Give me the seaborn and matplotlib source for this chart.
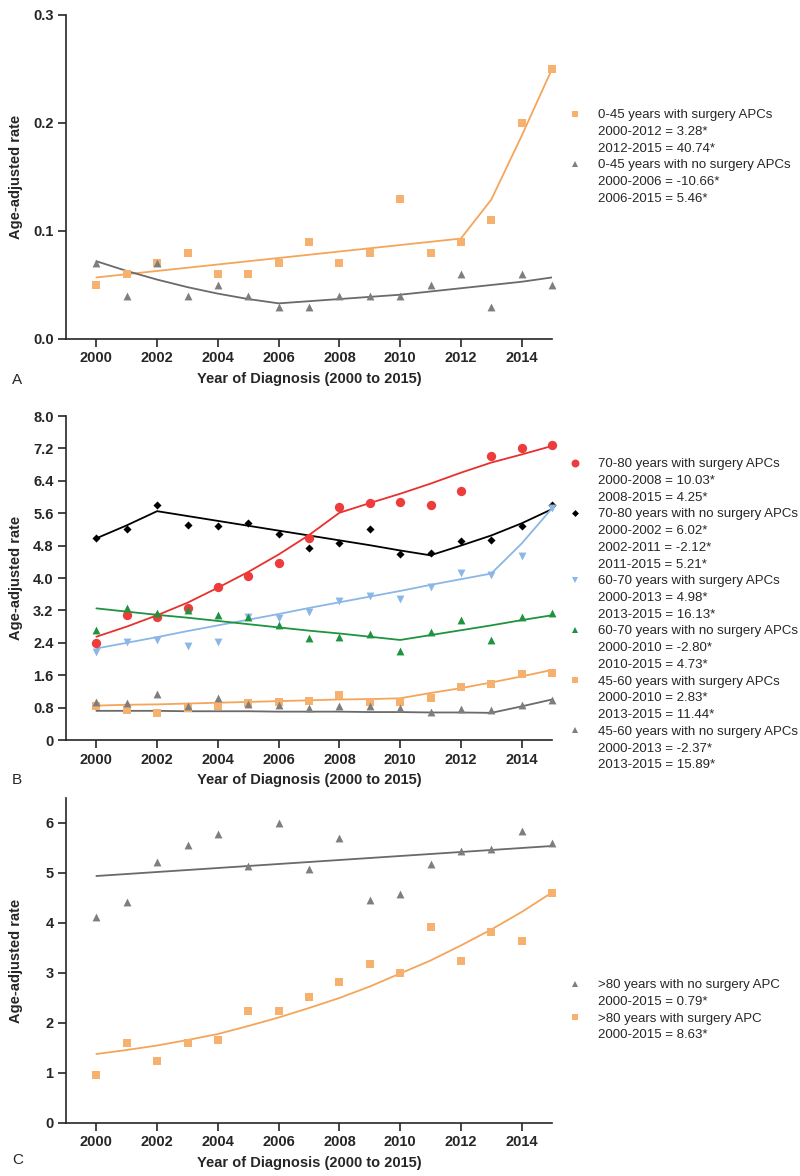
import numpy as np
import pandas as pd
import matplotlib.pyplot as plt
import seaborn as sns
from matplotlib.lines import Line2D
from matplotlib.ticker import FuncFormatter

sns.set_style("ticks")
plt.rcParams['font.family'] = ['Liberation Sans', 'DejaVu Sans']

years = list(range(2000, 2016))

# panel A: 0-45 years
a_surg = [0.05, 0.06, 0.07, 0.08, 0.06, 0.06, 0.07, 0.09, 0.07, 0.08, 0.13, 0.08, 0.09, 0.11, 0.20, 0.25]
a_surg_fit = [0.057, 0.060, 0.063, 0.066, 0.069, 0.072, 0.075, 0.078, 0.081, 0.084, 0.087, 0.090, 0.093, 0.129, 0.188, 0.25]
a_nosurg = [0.07, 0.04, 0.07, 0.04, 0.05, 0.04, 0.03, 0.03, 0.04, 0.04, 0.04, 0.05, 0.06, 0.03, 0.06, 0.05]
a_nosurg_fit = [0.072, 0.063, 0.055, 0.048, 0.042, 0.037, 0.033, 0.035, 0.037, 0.039, 0.041, 0.044, 0.047, 0.050, 0.053, 0.057]

# panel B: 45-80 years
b_7080_surg = [2.40, 3.08, 3.04, 3.25, 3.78, 4.05, 4.37, 4.99, 5.75, 5.84, 5.87, 5.81, 6.14, 7.01, 7.22, 7.28]
b_7080_surg_fit = [2.55, 2.80, 3.08, 3.39, 3.76, 4.15, 4.58, 5.06, 5.61, 5.85, 6.08, 6.33, 6.60, 6.85, 7.05, 7.26]
b_7080_nosurg = [5.00, 5.20, 5.80, 5.32, 5.29, 5.36, 5.09, 4.74, 4.87, 5.21, 4.60, 4.62, 4.91, 4.94, 5.29, 5.80]
b_7080_nosurg_fit = [4.98, 5.30, 5.65, 5.53, 5.41, 5.29, 5.17, 5.05, 4.93, 4.81, 4.68, 4.56, 4.80, 5.05, 5.35, 5.70]
b_6070_surg = [2.18, 2.43, 2.48, 2.33, 2.41, 3.04, 3.02, 3.15, 3.44, 3.55, 3.48, 3.78, 4.13, 4.07, 4.54, 5.73]
b_6070_surg_fit = [2.26, 2.40, 2.54, 2.69, 2.83, 2.97, 3.11, 3.26, 3.40, 3.54, 3.68, 3.83, 3.97, 4.11, 4.85, 5.72]
b_6070_nosurg = [2.71, 3.26, 3.14, 3.21, 3.08, 3.04, 2.85, 2.51, 2.55, 2.62, 2.20, 2.66, 2.96, 2.47, 3.04, 3.13]
b_6070_nosurg_fit = [3.25, 3.17, 3.09, 3.02, 2.94, 2.86, 2.78, 2.70, 2.63, 2.55, 2.47, 2.59, 2.71, 2.83, 2.96, 3.08]
b_4560_surg = [0.84, 0.74, 0.67, 0.80, 0.84, 0.92, 0.95, 0.96, 1.11, 0.93, 0.93, 1.04, 1.30, 1.38, 1.64, 1.66]
b_4560_surg_fit = [0.85, 0.87, 0.88, 0.90, 0.92, 0.94, 0.96, 0.98, 1.00, 1.01, 1.03, 1.16, 1.28, 1.42, 1.57, 1.73]
b_4560_nosurg = [0.95, 0.92, 1.13, 0.85, 1.04, 0.90, 0.86, 0.80, 0.85, 0.85, 0.80, 0.70, 0.76, 0.74, 0.86, 1.00]
b_4560_nosurg_fit = [0.72, 0.72, 0.72, 0.71, 0.71, 0.71, 0.70, 0.70, 0.70, 0.69, 0.69, 0.68, 0.68, 0.67, 0.83, 1.00]

# panel C: >80 years
c_nosurg = [4.12, 4.42, 5.23, 5.56, 5.79, 5.14, 6.01, 5.08, 5.70, 4.46, 4.59, 5.18, 5.44, 5.48, 5.85, 5.60]
c_nosurg_fit = [4.94, 4.98, 5.02, 5.06, 5.10, 5.14, 5.18, 5.22, 5.26, 5.30, 5.34, 5.38, 5.42, 5.46, 5.50, 5.54]
c_surg = [0.97, 1.60, 1.24, 1.60, 1.67, 2.25, 2.25, 2.53, 2.83, 3.18, 3.00, 3.92, 3.24, 3.83, 3.64, 4.61]
c_surg_fit = [1.38, 1.46, 1.55, 1.66, 1.78, 1.94, 2.11, 2.30, 2.50, 2.73, 2.99, 3.25, 3.55, 3.87, 4.22, 4.61]

ORANGE = '#F6B16E'
ORANGE_L = '#F5A55A'
GRAY = '#7E7E7E'
GRAY_L = '#6A6A6A'
RED = '#EE3B3B'
BLUE = '#8AB7E6'
GREEN = '#1E9440'

# (points, fit, marker, colour, line colour, size, legend lines)
series_a = [
    (a_surg, a_surg_fit, 's', ORANGE, ORANGE_L, 28,
     ['0-45 years with surgery APCs', '2000-2012 = 3.28*', '2012-2015 = 40.74*']),
    (a_nosurg, a_nosurg_fit, '^', GRAY, GRAY_L, 32,
     ['0-45 years with no surgery APCs', '2000-2006 = -10.66*', '2006-2015 = 5.46*']),
]
series_b = [
    (b_7080_surg, b_7080_surg_fit, 'o', RED, '#E8302C', 45,
     ['70-80 years with surgery APCs', '2000-2008 = 10.03*', '2008-2015 = 4.25*']),
    (b_7080_nosurg, b_7080_nosurg_fit, 'D', 'black', 'black', 17,
     ['70-80 years with no surgery APCs', '2000-2002 = 6.02*', '2002-2011 = -2.12*', '2011-2015 = 5.21*']),
    (b_6070_surg, b_6070_surg_fit, 'v', BLUE, BLUE, 32,
     ['60-70 years with surgery APCs', '2000-2013 = 4.98*', '2013-2015 = 16.13*']),
    (b_6070_nosurg, b_6070_nosurg_fit, '^', GREEN, GREEN, 32,
     ['60-70 years with no surgery APCs', '2000-2010 = -2.80*', '2010-2015 = 4.73*']),
    (b_4560_surg, b_4560_surg_fit, 's', ORANGE, ORANGE_L, 28,
     ['45-60 years with surgery APCs', '2000-2010 = 2.83*', '2013-2015 = 11.44*']),
    (b_4560_nosurg, b_4560_nosurg_fit, '^', GRAY, GRAY_L, 32,
     ['45-60 years with no surgery APCs', '2000-2013 = -2.37*', '2013-2015 = 15.89*']),
]
series_c = [
    (c_nosurg, c_nosurg_fit, '^', GRAY, GRAY_L, 32,
     ['>80 years with no surgery APC', '2000-2015 = 0.79*']),
    (c_surg, c_surg_fit, 's', ORANGE, ORANGE_L, 28,
     ['>80 years with surgery APC', '2000-2015 = 8.63*']),
]

W, H = 800, 1176
fig = plt.figure(figsize=(W / 100, H / 100), dpi=100)


def px_axes(left, top, right, bottom):
    return fig.add_axes([left / W, 1 - bottom / H, (right - left) / W, (bottom - top) / H])


def draw_panel(ax, series, ylim, yticks, yfmt, leg_top, letter, letter_y):
    for pts, fit, mk, col, lcol, size, labels in series:
        df = pd.DataFrame({'year': years, 'rate': pts, 'fit': fit})
        sns.lineplot(data=df, x='year', y='fit', ax=ax, color=lcol, lw=1.3, zorder=2)
        sns.scatterplot(data=df, x='year', y='rate', ax=ax, marker=mk, color=col,
                        s=size, linewidth=0, clip_on=False, zorder=3)
    ax.set_xlim(1999, 2015)
    ax.set_ylim(*ylim)
    ax.set_xticks(range(2000, 2016, 2))
    ax.set_yticks(yticks)
    ax.yaxis.set_major_formatter(FuncFormatter(yfmt))
    for sp in ['top', 'right']:
        ax.spines[sp].set_visible(False)
    for sp in ['left', 'bottom']:
        ax.spines[sp].set_linewidth(1.2)
    ax.tick_params(length=6, width=1.2, pad=3, labelsize=10.5)
    for t in ax.get_xticklabels() + ax.get_yticklabels():
        t.set_fontweight('bold')
    ax.set_xlabel('Year of Diagnosis (2000 to 2015)', fontsize=10.5, fontweight='bold', labelpad=5)
    ax.set_ylabel('Age-adjusted rate', fontsize=10.5, fontweight='bold')
    ax.yaxis.set_label_coords(-0.088, 0.5)

    handles, texts = [], []
    for pts, fit, mk, col, lcol, size, labels in series:
        handles.append(Line2D([0], [0], marker=mk, color=col, linestyle='none',
                              markersize=np.sqrt(size) * 0.85, markeredgewidth=0))
        texts.append(labels[0])
        for extra in labels[1:]:
            handles.append(Line2D([], [], linestyle='none'))
            texts.append(extra)
    ax.legend(handles, texts, loc='upper left', bbox_to_anchor=(567 / W, 1 - leg_top / H),
              bbox_transform=fig.transFigure, frameon=False, fontsize=9.5,
              handlelength=1.2, handletextpad=1.15, borderpad=0, borderaxespad=0,
              labelspacing=0.34)
    fig.text(12 / W, 1 - letter_y / H, letter, fontsize=11, va='center', ha='left')


ax_a = px_axes(66, 15, 552, 339)
draw_panel(ax_a, series_a, (0, 0.3), [0.0, 0.1, 0.2, 0.3],
           lambda v, p: '%.1f' % v, 109, 'A', 380)

ax_b = px_axes(66, 416, 552, 740)
draw_panel(ax_b, series_b, (0, 8.0), [0, 0.8, 1.6, 2.4, 3.2, 4.0, 4.8, 5.6, 6.4, 7.2, 8.0],
           lambda v, p: '0' if abs(v) < 1e-9 else '%.1f' % v, 458, 'B', 780)

ax_c = px_axes(66, 798, 552, 1123)
draw_panel(ax_c, series_c, (0, 6.5), [0, 1, 2, 3, 4, 5, 6],
           lambda v, p: '%d' % v, 979, 'C', 1160)

fig.savefig('out.png', dpi=100)
